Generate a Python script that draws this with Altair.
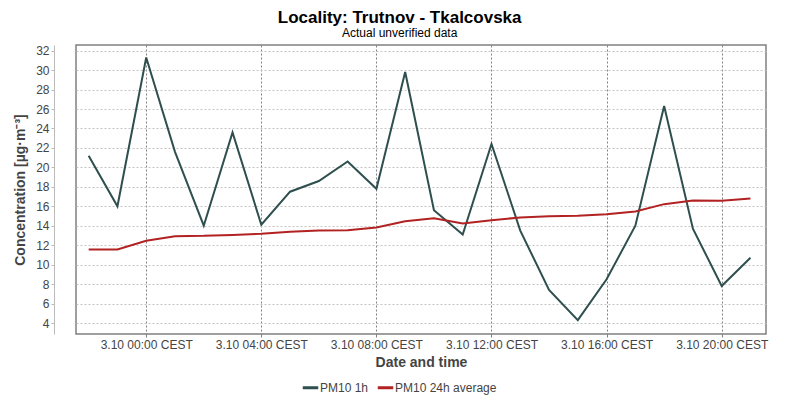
import altair as alt
import pandas as pd

# --- data ---
times = list(pd.date_range("2023-10-02 22:00", periods=24, freq="h").strftime("%Y-%m-%dT%H:%M"))
pm10_1h = [21.2, 16.0, 31.3, 21.6, 14.0, 23.6, 14.1, 17.5, 18.6, 20.6, 17.8, 29.8,
           15.6, 13.1, 22.4, 13.5, 7.4, 4.3, 8.5, 14.0, 26.3, 13.7, 7.8, 10.7]
pm10_24h = [11.55, 11.55, 12.45, 12.93, 12.96, 13.06, 13.17, 13.37, 13.51, 13.54, 13.82, 14.47,
            14.78, 14.23, 14.57, 14.85, 14.98, 15.02, 15.19, 15.46, 16.22, 16.6, 16.56, 16.8]
series_names = ["PM10 1h", "PM10 24h average"]
series_colors = ["#2f4f4f", "#b22222"]
x_tick_hours = [0, 4, 8, 12, 16, 20]
y_ticks = list(range(4, 33, 2))

rows = []
for t, a, b in zip(times, pm10_1h, pm10_24h):
    rows.append({"time": t, "value": a, "series": series_names[0]})
    rows.append({"time": t, "value": b, "series": series_names[1]})
df = pd.DataFrame(rows)

FONT = "Liberation Sans"
LBL = "#444444"

x_enc = alt.X(
    "time:T",
    scale=alt.Scale(domain=[
        alt.DateTime(year=2023, month=10, date=2, hours=21, minutes=33, seconds=36),
        alt.DateTime(year=2023, month=10, date=3, hours=21, minutes=32, seconds=24),
    ]),
    axis=alt.Axis(
        values=[alt.DateTime(year=2023, month=10, date=3, hours=h) for h in x_tick_hours],
        format="%-d.%-m %H:%M CEST",
        formatType="time",
        title="Date and time",
        grid=True, gridColor="#808080", gridDash=[2, 2], gridWidth=1,
        domain=False, ticks=True, tickSize=3, tickColor="#808080",
        labelFontSize=12, labelColor=LBL, labelFont=FONT, labelPadding=2,
        titleFontSize=14, titleFontWeight="bold", titleColor=LBL, titleFont=FONT,
        titlePadding=5,
    ),
)

y_enc = alt.Y(
    "value:Q",
    scale=alt.Scale(domain=[2.87, 32.58], nice=False, zero=False),
    axis=alt.Axis(
        values=y_ticks,
        title="Concentration [µg·m⁻³]",
        offset=22,
        grid=True, gridColor="#c4c4c4", gridDash=[2, 2], gridWidth=1,
        domain=True, domainColor="#bbbbbb", ticks=True, tickSize=3, tickColor="#bbbbbb",
        labelFontSize=12, labelColor=LBL, labelFont=FONT, labelPadding=2,
        titleFontSize=14, titleFontWeight="bold", titleColor=LBL, titleFont=FONT,
        titlePadding=8,
    ),
)

chart = alt.Chart(df).mark_line(strokeWidth=2).encode(
    x=x_enc,
    y=y_enc,
    color=alt.Color(
        "series:N",
        scale=alt.Scale(domain=series_names, range=series_colors),
        legend=alt.Legend(
            title=None, orient="none", direction="horizontal",
            legendX=225, legendY=333,
            symbolType="stroke", symbolSize=240, symbolStrokeWidth=3,
            labelFontSize=12, labelColor=LBL, labelFont=FONT,
            columnPadding=2, labelOffset=0,
        ),
    ),
).properties(
    width=690,
    height=289,
    autosize=alt.AutoSizeParams(type="none"),
    padding={"left": 68, "top": 37, "right": 20, "bottom": 62},
    title=alt.TitleParams(
        text="Locality: Trutnov - Tkalcovska",
        subtitle="Actual unverified data",
        anchor="start", align="center", dx=386,
        font=FONT, fontSize=17, fontWeight="bold", color="#000000",
        subtitleFont=FONT, subtitleFontSize=12, subtitleColor="#000000",
        subtitlePadding=1, offset=5,
    ),
).configure_view(stroke="#808080", strokeWidth=1.5)

chart.save("out.html", embed_options={"renderer": "svg", "actions": False})
